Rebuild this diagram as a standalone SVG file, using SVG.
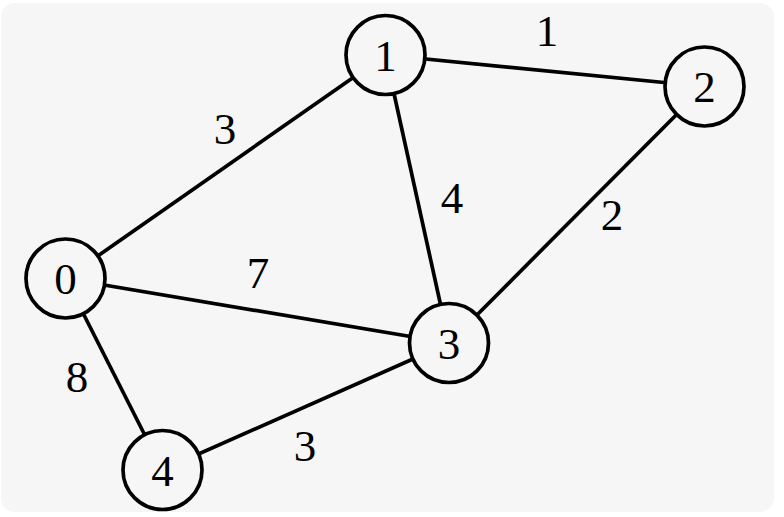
<svg xmlns="http://www.w3.org/2000/svg" width="784" height="517" viewBox="0 0 784 517">
<style>
.edge{stroke:#000;stroke-width:3.7;fill:none}
.node circle{fill:#f6f6f6;stroke:#000;stroke-width:3.7}
text{font-family:"Liberation Serif","DejaVu Serif",serif;font-size:45px;fill:#000;text-anchor:middle}
</style>
<rect x="0" y="0" width="784" height="517" fill="#ffffff"/>
<rect x="1" y="3" width="773" height="509" rx="14" fill="#f6f6f6"/>
<g id="connectors">
<line class="edge" x1="65.5" y1="278.5" x2="385.5" y2="55"/>
<line class="edge" x1="385.5" y1="55" x2="704.5" y2="86.5"/>
<line class="edge" x1="385.5" y1="55" x2="449" y2="343"/>
<line class="edge" x1="704.5" y1="86.5" x2="449" y2="343"/>
<line class="edge" x1="65.5" y1="278.5" x2="449" y2="343"/>
<line class="edge" x1="65.5" y1="278.5" x2="162.5" y2="470"/>
<line class="edge" x1="162.5" y1="470" x2="449" y2="343"/>
<text x="225" y="144">3</text>
<text x="547" y="46">1</text>
<text x="452" y="213">4</text>
<text x="612" y="230">2</text>
<text x="258" y="288">7</text>
<text x="77" y="392">8</text>
<text x="305" y="461">3</text>
</g>
<g id="node0" class="node"><circle cx="65.5" cy="278.5" r="39.5"/><text x="65.5" y="294">0</text></g>
<g id="node1" class="node"><circle cx="385.5" cy="55" r="39.5"/><text x="385.5" y="70.5">1</text></g>
<g id="node2" class="node"><circle cx="704.5" cy="86.5" r="39.5"/><text x="704.5" y="102">2</text></g>
<g id="node3" class="node"><circle cx="449" cy="343" r="39.5"/><text x="449" y="358.5">3</text></g>
<g id="node4" class="node"><circle cx="162.5" cy="470" r="39.5"/><text x="162.5" y="485.5">4</text></g>
</svg>
